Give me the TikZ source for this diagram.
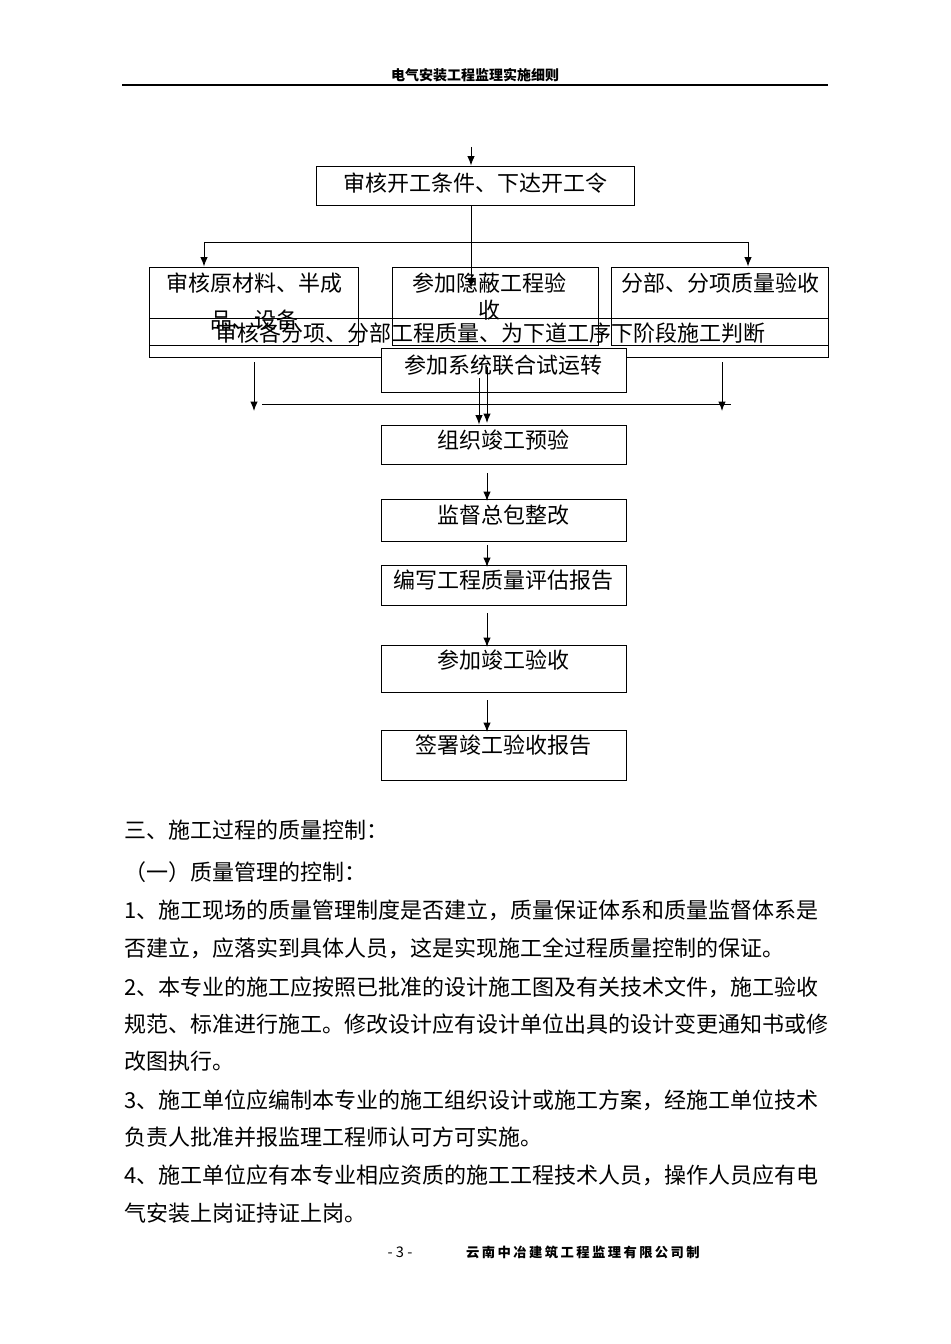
\documentclass[tikz,border=0pt]{standalone}
\usepackage{fontspec}
\setmainfont{Noto Sans CJK SC}
\newfontfamily\footfont[LetterSpace=18]{Noto Sans CJK SC}
\usetikzlibrary{arrows.meta}

\begin{document}
\begin{tikzpicture}[
        x=0.75pt, y=-0.75pt,
        >={Latex[length=7pt,width=5.5pt]},
        line width=0.7pt,
        box/.style={draw, inner sep=0pt},
        txt/.style={inner sep=0pt, font=\fontsize{16.5pt}{20pt}\selectfont},
        para/.style={txt, anchor=west}
        ]
            \useasboundingbox (0, 0) rectangle (950, 1344);

            % Header
            \node[inner sep=0pt, font=\fontsize{10.5pt}{12pt}\selectfont\bfseries] (title) at (475, 75) {电气安装工程监理实施细则};
            \draw[line width=1.5pt] (122, 85) -- (828, 85);

            % Start
            \coordinate (in) at (471, 147);
            \node[box, minimum width=238.5pt, minimum height=29.25pt] (start) at (475, 185.5) {};
            \node[txt] (startT) at (475, 183) {审核开工条件、下达开工令};
            \draw[->] (in) -- (in |- start.north);

            % Three checks
            \node[box, minimum width=156.75pt, minimum height=58.5pt] (raw) at (253.5, 306) {};
            \node[box, minimum width=154.5pt, minimum height=58.5pt] (hide) at (495, 306) {};
            \node[box, minimum width=162.75pt, minimum height=58.5pt] (sub) at (719.5, 306) {};
            \node[txt, align=center, font=\fontsize{16.5pt}{27.75pt}\selectfont] (rawT) at (254, 301.5) {审核原材料、半成\\品、设备};
            \node[txt, align=center, font=\fontsize{16.5pt}{20.25pt}\selectfont] (hideT) at (489, 296.5) {参加隐蔽工程验\\收};
            \node[txt] (subT) at (720, 283) {分部、分项质量验收};

            \coordinate (forkL) at (204, 242);
            \coordinate (forkR) at (748, 242);
            \coordinate (hideIn) at (471, 288);
            \draw (forkL) -- (forkR);
            \draw[->] (forkL) -- (forkL |- raw.north);
            \draw[->] (forkR) -- (forkR |- sub.north);
            \draw[->] (start.south -| in) -- (hideIn);

            % Judge
            \node[box, minimum width=509.25pt, minimum height=29.25pt] (judge) at (488.5, 337.5) {};
            \node[txt] (judgeT) at (490, 333) {审核各分项、分部工程质量、为下道工序下阶段施工判断};

            % Trial run
            \node[box, fill=white, minimum width=183.75pt, minimum height=33pt] (trial) at (503.5, 370) {};
            \node[txt] (trialT) at (503.5, 365) {参加系统联合试运转};

            % Side arrows
            \coordinate (sideL) at (254, 362);
            \coordinate (sideR) at (722, 362);
            \coordinate (joinL) at (262, 404);
            \coordinate (joinR) at (731, 404);
            \draw[->] (sideL) -- (254, 411);
            \draw[->] (sideR) -- (722, 411);
            \draw (joinL) -- (joinR);

            % Completion
            \node[box, minimum width=183.75pt, minimum height=29.25pt] (pre) at (503.5, 444.5) {};
            \node[txt] (preT) at (503.5, 440) {组织竣工预验};
            \node[box, minimum width=183.75pt, minimum height=31.5pt] (fix) at (503.5, 520) {};
            \node[txt] (fixT) at (503.5, 515) {监督总包整改};
            \node[box, minimum width=183.75pt, minimum height=30pt] (report) at (503.5, 585) {};
            \node[txt] (reportT) at (503.5, 580) {编写工程质量评估报告};
            \node[box, minimum width=183.75pt, minimum height=35.25pt] (accept) at (503.5, 668.5) {};
            \node[txt] (acceptT) at (503.5, 660) {参加竣工验收};
            \node[box, minimum width=183.75pt, minimum height=37.5pt] (sign) at (503.5, 755) {};
            \node[txt] (signT) at (503.5, 745) {签署竣工验收报告};

            \coordinate (dropA) at (479, 378);
            \coordinate (dropB) at (487, 367);
            \draw[->] (dropA) -- (dropA |- pre.north);
            \draw[->] (dropB) -- (487, 423);
            \draw[->] (487, 473) -- (487, 501);
            \draw[->] (487, 545) -- (487, 567);
            \draw[->] (487, 613) -- (487, 647);
            \draw[->] (487, 700) -- (487, 732);

            % Text
            \node[para] (sec3) at (124, 830) {三、施工过程的质量控制：};
            \node[para] (sub1) at (124, 872) {（一）质量管理的控制：};
            \node[para] (p1a) at (124, 910) {1、施工现场的质量管理制度是否建立，质量保证体系和质量监督体系是};
            \node[para] (p1b) at (124, 948) {否建立，应落实到具体人员，这是实现施工全过程质量控制的保证。};
            \node[para] (p2a) at (124, 987) {2、本专业的施工应按照已批准的设计施工图及有关技术文件，施工验收};
            \node[para] (p2b) at (124, 1024) {规范、标准进行施工。修改设计应有设计单位出具的设计变更通知书或修};
            \node[para] (p2c) at (124, 1061) {改图执行。};
            \node[para] (p3a) at (124, 1100) {3、施工单位应编制本专业的施工组织设计或施工方案，经施工单位技术};
            \node[para] (p3b) at (124, 1137) {负责人批准并报监理工程师认可方可实施。};
            \node[para] (p4a) at (124, 1175) {4、施工单位应有本专业相应资质的施工工程技术人员，操作人员应有电};
            \node[para] (p4b) at (124, 1213) {气安装上岗证持证上岗。};

            % Footer
            \node[inner sep=0pt, font=\fontsize{11pt}{13pt}\selectfont] (page) at (400, 1252) {- 3 -};
            \node[inner sep=0pt, font=\fontsize{10pt}{12pt}\footfont\bfseries] (firm) at (583, 1252) {云南中冶建筑工程监理有限公司制};
        \end{tikzpicture}
\end{document}
